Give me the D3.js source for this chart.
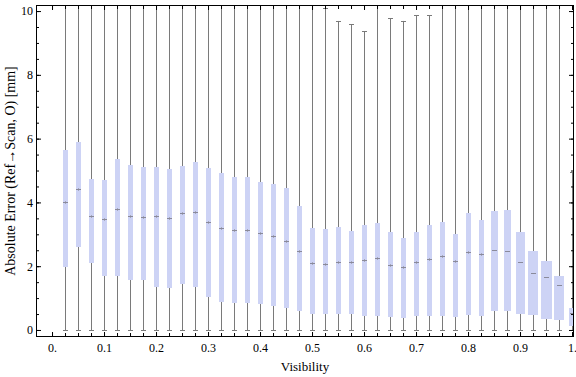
<!DOCTYPE html>
<html>
<head>
<meta charset="utf-8">
<script src="https://cdn.jsdelivr.net/npm/d3@7"></script>
<style>
  body { margin: 0; background: #fff; }
  text { font-family: "Liberation Serif", "Times New Roman", serif; fill: #000; }
  .axis path { display: none; }
  .axis line { stroke: #000; }
</style>
</head>
<body>
<div id="chart"></div>
<script>
// visibility bins (box centres)
const visibility = [0.025, 0.05, 0.075, 0.1, 0.125, 0.15, 0.175, 0.2, 0.225, 0.25,
  0.275, 0.3, 0.325, 0.35, 0.375, 0.4, 0.425, 0.45, 0.475, 0.5,
  0.525, 0.55, 0.575, 0.6, 0.625, 0.65, 0.675, 0.7, 0.725, 0.75,
  0.775, 0.8, 0.825, 0.85, 0.875, 0.9, 0.925, 0.95, 0.975, 1.0];

const q1 = [1.99, 2.61, 2.09, 1.69, 1.69, 1.56, 1.58, 1.36, 1.33, 1.45,
  1.36, 1.04, 0.89, 0.86, 0.86, 0.82, 0.76, 0.70, 0.61, 0.51,
  0.51, 0.51, 0.51, 0.45, 0.45, 0.42, 0.39, 0.45, 0.45, 0.45,
  0.42, 0.48, 0.45, 0.61, 0.61, 0.51, 0.48, 0.35, 0.32, 0.13];

const median = [4.02, 4.43, 3.58, 3.47, 3.78, 3.57, 3.55, 3.57, 3.52, 3.67,
  3.69, 3.39, 3.21, 3.13, 3.13, 3.05, 2.94, 2.80, 2.48, 2.11,
  2.06, 2.14, 2.14, 2.20, 2.27, 2.05, 1.98, 2.13, 2.24, 2.31,
  2.16, 2.45, 2.38, 2.50, 2.47, 2.14, 1.80, 1.66, 1.41, 0.52];

const q3 = [5.64, 5.89, 4.73, 4.70, 5.36, 5.18, 5.11, 5.11, 5.04, 5.15,
  5.27, 5.09, 4.92, 4.81, 4.81, 4.64, 4.58, 4.46, 3.89, 3.20,
  3.16, 3.23, 3.10, 3.29, 3.35, 3.07, 2.88, 3.07, 3.29, 3.39,
  3.01, 3.67, 3.45, 3.73, 3.76, 3.07, 2.48, 2.16, 1.69, 0.70];

const whiskerLow = [0, 0, 0, 0, 0, 0, 0, 0, 0, 0,
  0, 0, 0, 0, 0, 0, 0, 0, 0, 0,
  0, 0, 0, 0, 0, 0, 0, 0, 0, 0,
  0, 0, 0, 0, 0, 0, 0, 0, 0, 0];

// values above the frame (>10.2) are not readable, they run off the top
const whiskerHigh = [12, 12, 12, 12, 12, 12, 12, 12, 12, 12,
  12, 12, 12, 12, 12, 12, 12, 12, 12, 12,
  10.09, 9.69, 9.59, 9.37, 12, 9.78, 9.69, 9.87, 9.87, 12,
  12, 12, 12, 12, 12, 12, 12, 12, 12, 4.95];

// box width in visibility units
const boxSpan = [0.009, 0.009, 0.009, 0.009, 0.009, 0.009, 0.009, 0.009, 0.009, 0.009,
  0.009, 0.009, 0.009, 0.009, 0.009, 0.009, 0.009, 0.009, 0.009, 0.009,
  0.009, 0.009, 0.009, 0.009, 0.009, 0.009, 0.009, 0.009, 0.009, 0.009,
  0.009, 0.009, 0.009, 0.0135, 0.0135, 0.0173, 0.019, 0.021, 0.019, 0.012];

const xTickLabels = ["0.", "0.1", "0.2", "0.3", "0.4", "0.5", "0.6", "0.7", "0.8", "0.9", "1."];
const yTickLabels = ["0", "2", "4", "6", "8", "10"];

const width = 576;
const height = 377;
const margin = { top: 5, right: 2, bottom: 40, left: 36 };

const svg = d3.select("#chart").append("svg")
  .attr("width", width)
  .attr("height", height);

const x = d3.scaleLinear()
  .domain([-0.0308, 1.0038])
  .range([margin.left, width - margin.right]);

const y = d3.scaleLinear()
  .domain([-0.22, 10.19])
  .range([height - margin.bottom, margin.top]);

// snap to pixel centre so 1px lines stay crisp
const px = v => Math.round(x(v)) + 0.5;
const py = v => Math.round(y(v)) + 0.5;

const data = visibility.map((v, i) => ({
  v, q1: q1[i], med: median[i], q3: q3[i],
  lo: whiskerLow[i], hi: whiskerHigh[i], span: boxSpan[i]
}));

svg.append("clipPath").attr("id", "plot-clip")
  .append("rect")
  .attr("x", margin.left)
  .attr("y", margin.top)
  .attr("width", width - margin.left - margin.right)
  .attr("height", height - margin.top - margin.bottom);

const plot = svg.append("g").attr("clip-path", "url(#plot-clip)");

const box = plot.selectAll("g.box")
  .data(data)
  .enter().append("g")
  .attr("class", "box");

// whisker line
box.append("line")
  .attr("x1", d => px(d.v)).attr("x2", d => px(d.v))
  .attr("y1", d => py(d.lo)).attr("y2", d => y(d.hi))
  .attr("stroke", "#7a7a7a")
  .attr("stroke-width", 1);

// caps
box.append("line")
  .attr("x1", d => px(d.v) - 2.5).attr("x2", d => px(d.v) + 2.5)
  .attr("y1", d => py(d.lo)).attr("y2", d => py(d.lo))
  .attr("stroke", "#7a7a7a");

box.filter(d => d.hi < 10.19).append("line")
  .attr("x1", d => px(d.v) - 2.5).attr("x2", d => px(d.v) + 2.5)
  .attr("y1", d => py(d.hi)).attr("y2", d => py(d.hi))
  .attr("stroke", "#7a7a7a");

// interquartile box
box.append("rect")
  .attr("x", d => Math.round(x(d.v - d.span / 2)))
  .attr("width", d => Math.round(x(d.span) - x(0)))
  .attr("y", d => Math.round(y(d.q3)))
  .attr("height", d => Math.round(y(d.q1)) - Math.round(y(d.q3)))
  .attr("fill", "#cdd3f5");

// median marker
box.append("line")
  .attr("x1", d => px(d.v) - 2.5).attr("x2", d => px(d.v) + 2.5)
  .attr("y1", d => py(d.med)).attr("y2", d => py(d.med))
  .attr("stroke", "#8a8a9a")
  .attr("stroke-width", 1);

box.filter(d => x(d.span) - x(0) < 6).append("line")
  .attr("x1", d => px(d.v)).attr("x2", d => px(d.v))
  .attr("y1", d => py(d.med) - 1.5).attr("y2", d => py(d.med) + 1.5)
  .attr("stroke", "#8a8a9a")
  .attr("stroke-opacity", 0.6);

// axes
const xMajor = d3.range(0, 11).map(i => i / 10);
const xMinor = d3.range(0, 41).map(i => i / 40);
const yMajor = d3.range(0, 6).map(i => i * 2);
const yMinor = d3.range(0, 21).map(i => i / 2);

const fmtX = (d, i) => xTickLabels[i];
const fmtY = (d, i) => yTickLabels[i];

svg.append("g").attr("class", "axis")
  .attr("transform", `translate(0,${height - margin.bottom})`)
  .call(d3.axisBottom(x).tickValues(xMinor).tickSize(-4).tickFormat(""));
svg.append("g").attr("class", "axis")
  .attr("transform", `translate(0,${height - margin.bottom})`)
  .call(d3.axisBottom(x).tickValues(xMajor).tickSize(-5).tickPadding(6).tickFormat(fmtX))
  .selectAll("text").attr("font-size", 12);

svg.append("g").attr("class", "axis")
  .attr("transform", `translate(0,${margin.top})`)
  .call(d3.axisTop(x).tickValues(xMinor).tickSize(-4).tickFormat(""));
svg.append("g").attr("class", "axis")
  .attr("transform", `translate(0,${margin.top})`)
  .call(d3.axisTop(x).tickValues(xMajor).tickSize(-5).tickFormat(""));

svg.append("g").attr("class", "axis")
  .attr("transform", `translate(${margin.left},0)`)
  .call(d3.axisLeft(y).tickValues(yMinor).tickSize(-3).tickFormat(""));
svg.append("g").attr("class", "axis")
  .attr("transform", `translate(${margin.left},0)`)
  .call(d3.axisLeft(y).tickValues(yMajor).tickSize(-5).tickPadding(3).tickFormat(fmtY))
  .selectAll("text").attr("font-size", 12);

svg.append("g").attr("class", "axis")
  .attr("transform", `translate(${width - margin.right},0)`)
  .call(d3.axisRight(y).tickValues(yMinor).tickSize(-3).tickFormat(""));
svg.append("g").attr("class", "axis")
  .attr("transform", `translate(${width - margin.right},0)`)
  .call(d3.axisRight(y).tickValues(yMajor).tickSize(-5).tickFormat(""));

svg.selectAll(".axis text").attr("font-family", "Liberation Serif").attr("fill", "#000");

// frame
svg.append("rect")
  .attr("x", margin.left + 0.5)
  .attr("y", margin.top + 0.5)
  .attr("width", width - margin.left - margin.right - 1)
  .attr("height", height - margin.top - margin.bottom - 1)
  .attr("fill", "none")
  .attr("stroke", "#000");

// axis titles
svg.append("text")
  .attr("x", (margin.left + width - margin.right) / 2)
  .attr("y", 371)
  .attr("text-anchor", "middle")
  .attr("font-size", 13)
  .text("Visibility");

svg.append("text")
  .attr("transform", `translate(15,${(margin.top + height - margin.bottom) / 2}) rotate(-90)`)
  .attr("text-anchor", "middle")
  .attr("font-size", 14)
  .text("Absolute Error (Ref\u2192Scan, O) [mm]");
</script>
</body>
</html>
